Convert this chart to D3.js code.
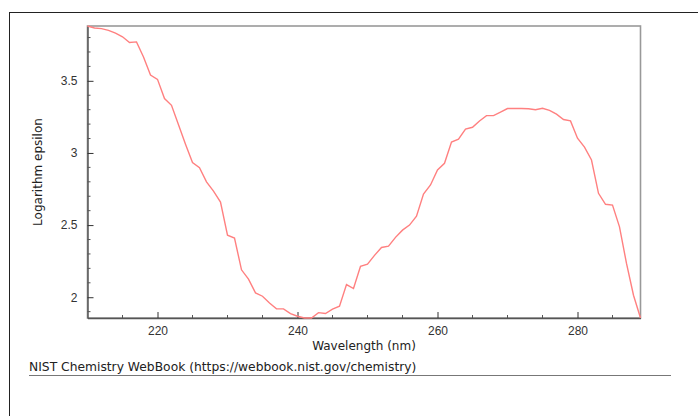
<!DOCTYPE html>
<html>
<head>
<meta charset="utf-8">
<script src="https://cdn.jsdelivr.net/npm/d3@7"></script>
<style>
  body { margin: 0; background: #fff; }
  svg { display: block; font-family: "DejaVu Sans", sans-serif; }
</style>
</head>
<body>
<div id="chart"></div>
<script>
// spectrum data
const wavelengths = [
  210, 211, 212, 213, 214, 215, 216, 217, 218, 219,
  220, 221, 222, 223, 224, 225, 226, 227, 228, 229,
  230, 231, 232, 233, 234, 235, 236, 237, 238, 239,
  240, 241, 242, 243, 244, 245, 246, 247, 248, 249,
  250, 251, 252, 253, 254, 255, 256, 257, 258, 259,
  260, 261, 262, 263, 264, 265, 266, 267, 268, 269,
  270, 271, 272, 273, 274, 275, 276, 277, 278, 279,
  280, 281, 282, 283, 284, 285, 286, 287, 288, 289
];
const logEpsilon = [
  3.880, 3.866, 3.862, 3.850, 3.830, 3.805, 3.766, 3.770, 3.665, 3.540,
  3.510, 3.377, 3.330, 3.195, 3.060, 2.933, 2.898, 2.800, 2.735, 2.660,
  2.430, 2.410, 2.190, 2.125, 2.030, 2.007, 1.960, 1.920, 1.919, 1.887,
  1.868, 1.856, 1.856, 1.893, 1.887, 1.917, 1.938, 2.088, 2.060, 2.215,
  2.229, 2.290, 2.345, 2.354, 2.415, 2.465, 2.500, 2.562, 2.715, 2.778,
  2.882, 2.928, 3.075, 3.095, 3.165, 3.178, 3.222, 3.259, 3.259, 3.283,
  3.308, 3.308, 3.308, 3.306, 3.300, 3.310, 3.295, 3.269, 3.232, 3.222,
  3.102, 3.040, 2.951, 2.720, 2.644, 2.639, 2.488, 2.234, 2.014, 1.856
];
const xTicks = [220, 240, 260, 280];
const yTicks = [2, 2.5, 3, 3.5];
const xLabel = "Wavelength (nm)";
const yLabel = "Logarithm epsilon";
const credit = "NIST Chemistry WebBook (https://webbook.nist.gov/chemistry)";

const data = wavelengths.map((w, i) => ({ w: w, v: logEpsilon[i] }));

// dimensions
const W = 698, H = 416;
const padLeft = 87.5, padRight = 640.5, padTop = 26, padBot = 318;

const svg = d3.select("#chart").append("svg")
  .attr("width", W)
  .attr("height", H);

// outer frame
svg.append("rect")
  .attr("x", 9.5).attr("y", 12.5)
  .attr("width", 720).attr("height", 440)
  .attr("fill", "none")
  .attr("stroke", "#222")
  .attr("stroke-width", 1);

// scales
const x = d3.scaleLinear()
  .domain(d3.extent(wavelengths))
  .range([padLeft, padRight]);
const y = d3.scaleLinear()
  .domain(d3.extent(logEpsilon))
  .range([padBot, padTop]);

// plot frame
svg.append("rect")
  .attr("x", padLeft).attr("y", padTop)
  .attr("width", padRight - padLeft).attr("height", padBot - padTop)
  .attr("fill", "none")
  .attr("stroke", "#999")
  .attr("stroke-width", 1.6);

// minor ticks
const xMinor = d3.range(215, 290, 5).filter(d => !xTicks.includes(d));
const yMinor = d3.range(19, 39).map(d => d / 10).filter(d => !yTicks.includes(d) && d >= y.domain()[0] && d <= y.domain()[1]);

svg.append("g").selectAll("line").data(xMinor).join("line")
  .attr("x1", d => x(d)).attr("x2", d => x(d))
  .attr("y1", padBot).attr("y2", padBot - 3)
  .attr("stroke", "#555");
svg.append("g").selectAll("line").data(yMinor).join("line")
  .attr("x1", padLeft).attr("x2", padLeft + 3)
  .attr("y1", d => y(d)).attr("y2", d => y(d))
  .attr("stroke", "#555");

// x axis
const xAxis = svg.append("g")
  .attr("transform", `translate(0,${padBot})`)
  .call(d3.axisBottom(x).tickValues(xTicks).tickFormat(d3.format("d")).tickSizeInner(-6).tickSizeOuter(0).tickPadding(8));
xAxis.select(".domain").attr("stroke", "#555").attr("stroke-width", 1.4);
xAxis.selectAll(".tick line").attr("stroke", "#333");
xAxis.selectAll("text").attr("font-size", 12).attr("fill", "#333");

// y axis
const yAxis = svg.append("g")
  .attr("transform", `translate(${padLeft},0)`)
  .call(d3.axisLeft(y).tickValues(yTicks).tickFormat(d3.format("")).tickSizeInner(-6).tickSizeOuter(0).tickPadding(10));
yAxis.select(".domain").attr("stroke", "#555").attr("stroke-width", 1.4);
yAxis.selectAll(".tick line").attr("stroke", "#333");
yAxis.selectAll("text").attr("font-size", 12).attr("fill", "#333");

// axis titles
svg.append("text")
  .attr("x", (padLeft + padRight) / 2).attr("y", 350)
  .attr("text-anchor", "middle")
  .attr("font-size", 12).attr("fill", "#222")
  .text(xLabel);
svg.append("text")
  .attr("transform", `translate(42,${(padTop + padBot) / 2}) rotate(-90)`)
  .attr("text-anchor", "middle")
  .attr("font-size", 12).attr("fill", "#222")
  .text(yLabel);

// spectrum line
svg.append("path")
  .datum(data)
  .attr("fill", "none")
  .attr("stroke", "#ff8080")
  .attr("stroke-width", 1.4)
  .attr("d", d3.line().x(d => x(d.w)).y(d => y(d.v)));

// credit line
svg.append("text")
  .attr("x", 29).attr("y", 371)
  .attr("font-size", 12.3).attr("fill", "#222")
  .text(credit);
svg.append("line")
  .attr("x1", 29).attr("x2", 671)
  .attr("y1", 375.5).attr("y2", 375.5)
  .attr("stroke", "#777");
</script>
</body>
</html>
